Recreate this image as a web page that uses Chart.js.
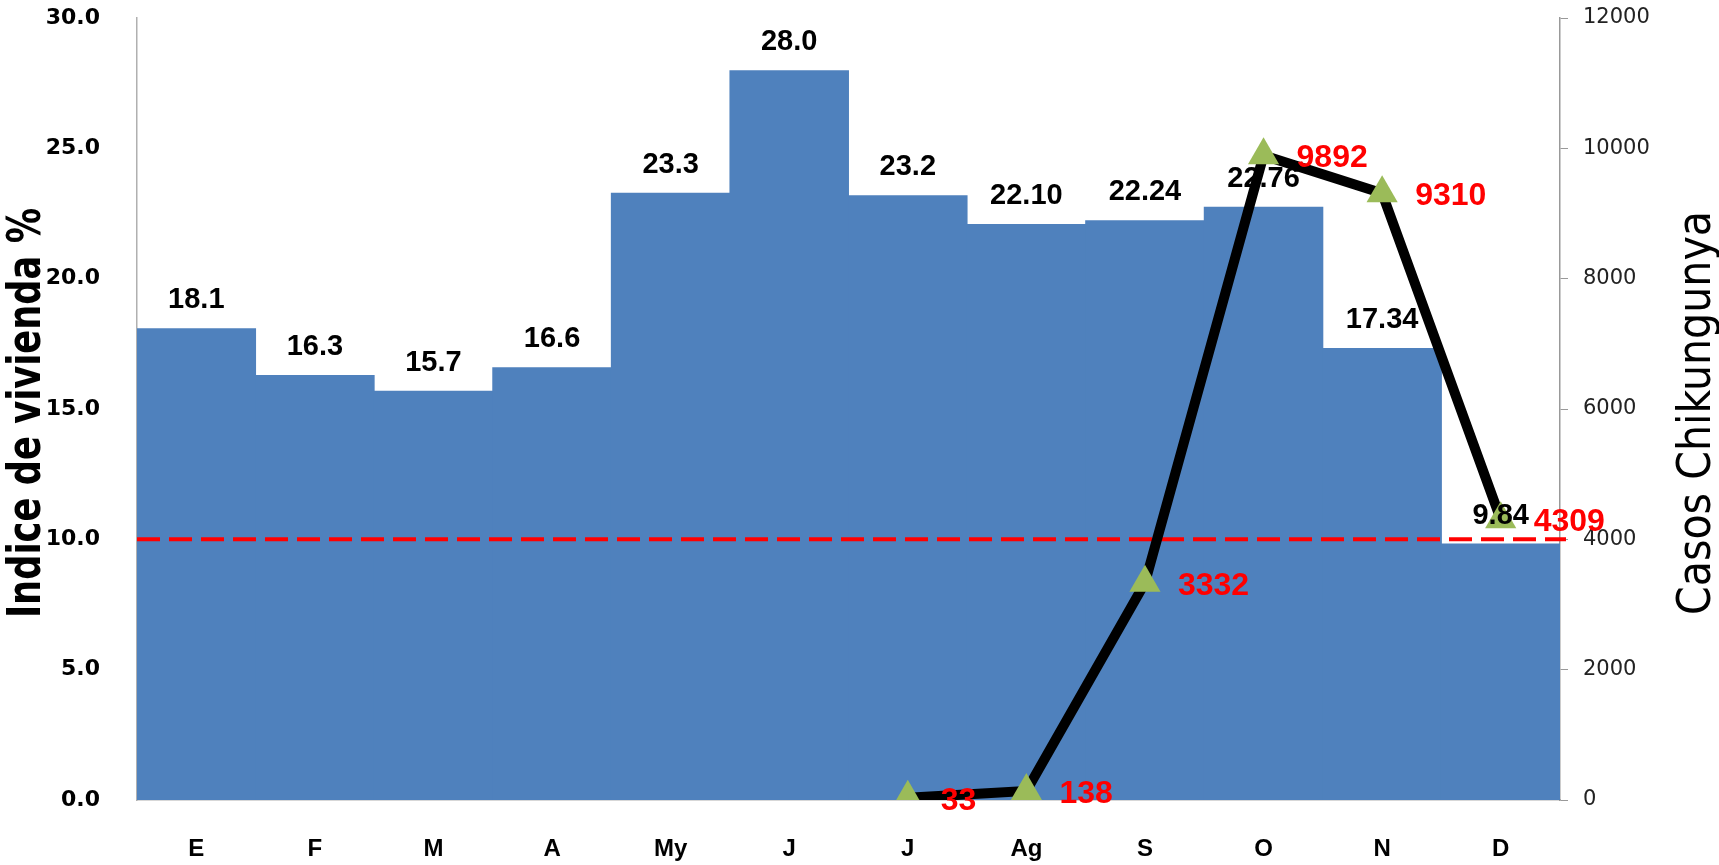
<!DOCTYPE html>
<html>
<head>
<meta charset="utf-8">
<script src="https://cdn.jsdelivr.net/npm/chart.js@4.4.1/dist/chart.umd.min.js"></script>
<style>
  html, body { margin: 0; padding: 0; background: #fff; }
  #wrap { position: relative; width: 1719px; height: 865px; }
</style>
</head>
<body>
<div id="wrap"><canvas id="chart"></canvas></div>
<script>
// data
const months = ['E', 'F', 'M', 'A', 'My', 'J', 'J', 'Ag', 'S', 'O', 'N', 'D'];
const indiceVivienda = [18.1, 16.3, 15.7, 16.6, 23.3, 28.0, 23.2, 22.10, 22.24, 22.76, 17.34, 9.84];
const indiceDecimals = [1, 1, 1, 1, 1, 1, 1, 2, 2, 2, 2, 2];
const casosChik = [null, null, null, null, null, null, 33, 138, 3332, 9892, 9310, 4309];
const umbral = 10;
const leftMax = 30, leftStep = 5;
const rightMax = 12000, rightStep = 2000;
const titleLeft = 'Indice de vivienda %';
const titleRight = 'Casos Chikungunya';

const labelFont = '"Liberation Sans", Arial, sans-serif';
const narrowFont = '"Liberation Sans Narrow", "DejaVu Sans Condensed", "Liberation Sans", sans-serif';

// draws a rotated title stretched to a given length (the original text is tall and condensed)
function drawTitle(ctx, text, font, x, y, length) {
  ctx.save();
  ctx.font = font;
  const w = ctx.measureText(text).width;
  ctx.translate(x, y);
  ctx.rotate(-Math.PI / 2);
  ctx.scale(length / w, 1);
  ctx.textAlign = 'center';
  ctx.textBaseline = 'alphabetic';
  ctx.fillStyle = '#000';
  ctx.fillText(text, 0, 0);
  ctx.restore();
}

// tick padding is added to the scale's top/bottom padding by Chart.js, drop it
function noPad(scale) {
  scale.paddingTop = 0;
  scale.paddingBottom = 0;
  scale.paddingLeft = 0;
  scale.paddingRight = 0;
}

const extras = {
  id: 'extras',
  afterDatasetDraw(chart, args) {
    if (args.index !== 1) return; // right after the bars
    const { ctx, chartArea } = chart;
    const y = chart.scales.y.getPixelForValue(umbral);
    ctx.save();
    ctx.strokeStyle = '#FF0000';
    ctx.lineWidth = 4;
    ctx.setLineDash([23, 9]);
    ctx.beginPath();
    ctx.moveTo(chartArea.left, y);
    ctx.lineTo(chartArea.right + 6, y);
    ctx.stroke();
    ctx.restore();
  },
  afterDatasetsDraw(chart) {
    const ctx = chart.ctx;
    ctx.save();
    // bar values
    ctx.font = 'bold 29px ' + labelFont;
    ctx.fillStyle = '#000';
    ctx.textAlign = 'center';
    ctx.textBaseline = 'middle';
    chart.getDatasetMeta(1).data.forEach((bar, i) => {
      ctx.fillText(indiceVivienda[i].toFixed(indiceDecimals[i]), bar.x, bar.y - 28);
    });
    // case counts
    ctx.font = 'bold 32px ' + labelFont;
    ctx.fillStyle = '#FF0000';
    ctx.textAlign = 'left';
    chart.getDatasetMeta(0).data.forEach((pt, i) => {
      if (casosChik[i] == null) return;
      ctx.fillText(String(casosChik[i]), pt.x + 33, pt.y + 3);
    });
    ctx.restore();
  },
  afterDraw(chart) {
    const ctx = chart.ctx;
    const mid = (chart.chartArea.top + chart.chartArea.bottom) / 2 + 4;
    drawTitle(ctx, titleLeft, 'bold 46px ' + narrowFont, 40, mid, 410);
    drawTitle(ctx, titleRight, '46px ' + narrowFont, 1710, mid, 404);
  }
};

new Chart(document.getElementById('chart'), {
  type: 'bar',
  data: {
    labels: months,
    datasets: [
      {
        type: 'line',
        label: 'Casos Chikungunya',
        data: casosChik,
        yAxisID: 'y2',
        order: 0,
        borderColor: '#000',
        borderWidth: 10,
        tension: 0,
        pointStyle: 'triangle',
        pointRadius: 18,
        pointHoverRadius: 18,
        pointBackgroundColor: '#9BBB59',
        pointBorderColor: '#9BBB59',
        pointBorderWidth: 0,
      },
      {
        type: 'bar',
        label: 'Indice de vivienda %',
        data: indiceVivienda,
        yAxisID: 'y',
        order: 1,
        backgroundColor: '#4F81BD',
        borderWidth: 0,
        categoryPercentage: 1.0,
        barPercentage: 1.008, // tiny overlap so no seams show between bars
      },
    ],
  },
  options: {
    responsive: true,
    maintainAspectRatio: false,
    animation: false,
    layout: { padding: { top: 15, left: 0, right: 0, bottom: 0 } },
    plugins: {
      legend: { display: false },
      tooltip: { enabled: false },
    },
    scales: {
      x: {
        grid: { display: false },
        border: { display: true, color: '#B0B0B0', width: 1.5 },
        ticks: {
          color: '#000',
          padding: 27,
          font: { family: labelFont, size: 24, weight: 'bold' },
        },
        afterFit(scale) { scale.height = 65; noPad(scale); },
      },
      y: {
        position: 'left',
        min: 0,
        max: leftMax,
        grid: { display: false },
        border: { display: true, color: '#B0B0B0', width: 1.5 },
        ticks: {
          stepSize: leftStep,
          padding: 29,
          color: '#000',
          font: { family: '"DejaVu Sans", Verdana, sans-serif', size: 22, weight: 'bold' },
          callback: (v) => v.toFixed(1),
        },
        afterFit(scale) { scale.width = 137; noPad(scale); },
      },
      y2: {
        position: 'right',
        min: 0,
        max: rightMax,
        grid: {
          display: true,
          drawOnChartArea: false,
          drawTicks: true,
          tickLength: 8,
          color: '#999',
          tickColor: '#999',
        },
        border: { display: true, color: '#999', width: 1.5 },
        ticks: {
          stepSize: rightStep,
          padding: 15,
          color: '#222',
          font: { family: '"DejaVu Sans", Verdana, sans-serif', size: 21 },
          callback: (v) => String(v),
        },
        afterFit(scale) { scale.width = 159; noPad(scale); },
      },
    },
  },
  plugins: [extras],
});
</script>
</body>
</html>
